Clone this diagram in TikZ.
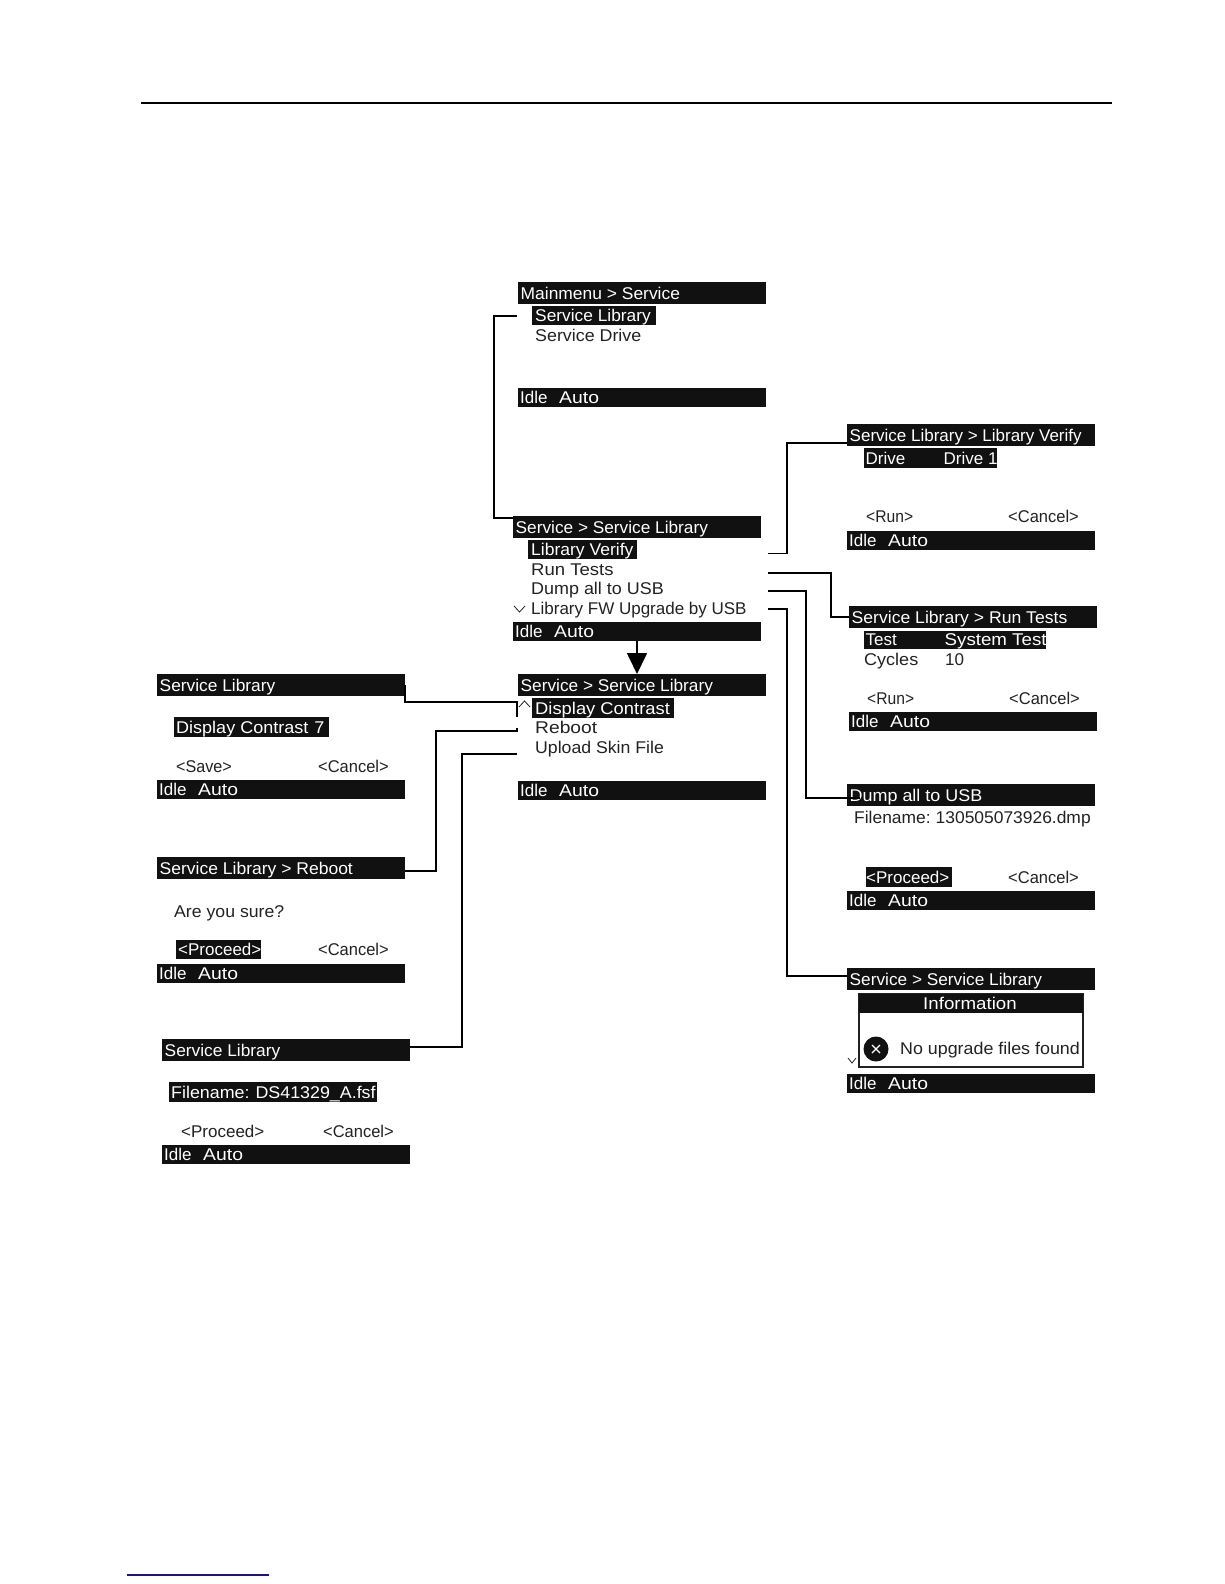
\documentclass[tikz,border=0pt]{standalone}
\usepackage{fontspec}
\setmainfont{Liberation Sans}
\usetikzlibrary{arrows.meta}
\definecolor{lcdblack}{HTML}{111111}
\definecolor{inkgrey}{HTML}{222222}
\definecolor{linkblue}{HTML}{14148C}
\newcommand{\St}[2]{{\addfontfeature{FakeStretch=#1}#2}}
\tikzset{
  x=1pt,y=-1pt,
  every node/.style={font=\fontsize{17}{17}\selectfont},
  barbox/.style={fill=lcdblack,inner sep=0pt,outer sep=0pt,minimum width=248pt,anchor=north west},
  hlbox/.style={fill=lcdblack,inner sep=0pt,outer sep=0pt,anchor=north west},
  wtext/.style={text=white,inner sep=0pt,anchor=base west},
  ktext/.style={text=inkgrey,inner sep=0pt,anchor=base west},
  conn/.style={line width=1.7pt,line join=miter,draw=black},
  thinconn/.style={line width=1.25pt,line join=miter,draw=black},
  caret/.style={line width=0.8pt,draw=inkgrey},
  rulex/.style={line width=1.1pt,draw=black},
}
% name, x, y, height, text
\newcommand{\TopBar}[5]{\node[barbox,minimum height=#4pt] (#1) at (#2,#3) {};
  \node[wtext] (#1t) at ([xshift=2.5pt,yshift=4.5pt]#1.south west) {#5};}
% name, x, y  (status bar)
\newcommand{\IdleBar}[3]{\node[barbox,minimum height=19pt] (#1) at (#2,#3) {};
  \node[wtext] (#1t) at ([xshift=2pt,yshift=4pt]#1.south west) {\makebox[39pt][l]{Idle}\St{1.14}{Auto}};}
% name, x, y, w, h, textx offset, text
\newcommand{\HlBox}[7]{\node[hlbox,minimum width=#4pt,minimum height=#5pt] (#1) at (#2,#3) {};
  \node[wtext] (#1t) at ([xshift=#6pt,yshift=4pt]#1.south west) {#7};}
\begin{document}
\begin{tikzpicture}
\useasboundingbox (0,0) rectangle (1224,1584);
\fill[white] (0,0) rectangle (1224,1584);

% page rules
\coordinate (ruleL) at (141,103);
\coordinate (ruleR) at (1112,103);
\draw[rulex] (ruleL) -- (ruleR);
\coordinate (linkL) at (127,1575);
\coordinate (linkR) at (269,1575);
\draw[line width=1.4pt,draw=linkblue] (linkL) -- (linkR);

% Panel A
\TopBar{A}{518}{282}{22}{\St{1.025}{Mainmenu > Service}}
\HlBox{Ah}{532}{306}{124}{19}{3}{\St{1.02}{Service Library}}
\node[ktext] (Ab) at (535,341) {\St{1.05}{Service Drive}};
\IdleBar{Ai}{518}{388}

% Panel B
\TopBar{B}{513}{516}{22}{\St{1.015}{Service > Service Library}}
\HlBox{Bh}{528}{540}{109}{19}{3}{\St{1.03}{Library Verify}}
\node[ktext] (Bb) at (531,575) {\St{1.09}{Run Tests}};
\node[ktext] (Bc) at (531,594) {\St{1.055}{Dump all to USB}};
\node[ktext] (Bd) at (531,614) {Library FW Upgrade by USB};
\IdleBar{Bi}{513}{622}

% Panel C
\TopBar{C}{518}{674}{22}{\St{1.015}{Service > Service Library}}
\HlBox{Ch}{532}{698}{142}{20}{3}{\St{1.08}{Display Contrast}}
\node[ktext] (Cb) at (535,733) {\St{1.13}{Reboot}};
\node[ktext] (Cc) at (535,753) {\St{1.04}{Upload Skin File}};
\IdleBar{Ci}{518}{781}

% Left 1
\TopBar{La}{157}{674}{22}{\St{1.02}{Service Library}}
\HlBox{Lah}{174}{717}{155}{20}{2}{\St{1.06}{Display Contrast\hspace{6pt}7}}
\node[ktext] (Las) at (176,772) {\St{0.95}{<Save>}};
\node[ktext] (Lac) at (318,772) {\St{0.97}{<Cancel>}};
\IdleBar{Lai}{157}{780}

% Left 2
\TopBar{Lb}{157}{857}{22}{\St{1.03}{Service Library > Reboot}}
\node[ktext] (Lbq) at (174,917) {\St{1.04}{Are you sure?}};
\HlBox{Lbh}{176}{940}{85}{19}{2}{<Proceed>}
\node[ktext] (Lbc) at (318,955) {\St{0.97}{<Cancel>}};
\IdleBar{Lbi}{157}{964}

% Left 3
\TopBar{Lc}{162}{1039}{22}{\St{1.02}{Service Library}}
\HlBox{Lch}{169}{1082}{208}{20}{2}{\St{1.05}{Filename:\hspace{6pt}DS41329\_A.fsf}}
\node[ktext] (Lcp) at (181,1137) {<Proceed>};
\node[ktext] (Lcc) at (323,1137) {\St{0.97}{<Cancel>}};
\IdleBar{Lci}{162}{1145}

% Right 1
\TopBar{Ra}{847}{424}{22}{Service Library > Library Verify}
\HlBox{Rah}{864}{448}{133}{20}{1.5}{\makebox[78pt][l]{Drive}Drive 1}
\node[ktext] (Rar) at (866,522) {\St{0.92}{<Run>}};
\node[ktext] (Rac) at (1008,522) {\St{0.97}{<Cancel>}};
\IdleBar{Rai}{847}{531}

% Right 2
\TopBar{Rb}{849}{606}{22}{\St{1.035}{Service Library > Run Tests}}
\HlBox{Rbh}{864}{631}{182}{18}{1.5}{\makebox[79pt][l]{Test}\St{1.1}{System Test}}
\node[ktext] (Rbl) at (864,665) {\makebox[81pt][l]{\St{1.06}{Cycles}}10};
\node[ktext] (Rbr) at (867,704) {\St{0.92}{<Run>}};
\node[ktext] (Rbc) at (1009,704) {\St{0.97}{<Cancel>}};
\IdleBar{Rbi}{849}{712}

% Right 3
\TopBar{Rc}{847}{784}{22}{\St{1.055}{Dump all to USB}}
\node[ktext] (Rcf) at (854,823) {\St{1.025}{Filename:\hspace{5pt}130505073926.dmp}};
\HlBox{Rch}{866}{867}{86}{20}{0}{<Proceed>}
\node[ktext] (Rcc) at (1008,883) {\St{0.97}{<Cancel>}};
\IdleBar{Rci}{847}{891}

% Right 4
\TopBar{Rd}{847}{968}{22}{\St{1.015}{Service > Service Library}}
\node[draw=inkgrey,line width=1.3pt,fill=white,inner sep=0pt,outer sep=0pt,anchor=north west,minimum width=224pt,minimum height=73pt] (Rdb) at (859,994) {};
\node[fill=lcdblack,inner sep=0pt,outer sep=0pt,anchor=north,minimum width=224pt,minimum height=19pt] (Rdh) at (Rdb.north) {};
\node[text=white,inner sep=0pt,anchor=base] (Rdt) at (970,1009) {\St{1.1}{Information}};
\node[circle,fill=lcdblack,minimum size=25pt,inner sep=0pt] (Rdi) at (876,1049) {};
\draw[white,line width=1.1pt] ([xshift=-4pt,yshift=-4pt]Rdi.center) -- ([xshift=4pt,yshift=4pt]Rdi.center);
\draw[white,line width=1.1pt] ([xshift=-4pt,yshift=4pt]Rdi.center) -- ([xshift=4pt,yshift=-4pt]Rdi.center);
\node[ktext] (Rdm) at (900,1054) {\St{1.05}{No upgrade files found}};
\IdleBar{Rdx}{847}{1074}

% scroll carets
\draw[caret] (514,606) -- (519.5,612) -- (525,606);
\draw[caret] (519,707) -- (524.5,701) -- (530,707);
\draw[caret] (848,1058) -- (852,1063) -- (856,1058);

% connector end points
\coordinate (sA) at (517,316);
\coordinate (tA) at (494,518);
\coordinate (sBa) at (768,553.5);
\coordinate (tBa) at (787,443);
\coordinate (sBb) at (768,573);
\coordinate (tBb) at (831,617);
\coordinate (sBc) at (768,591);
\coordinate (tBc) at (806,798);
\coordinate (eBc) at (860,798);
\coordinate (sBd) at (768,609);
\coordinate (tBd) at (787,976);
\coordinate (sCa) at (517,717);
\coordinate (tCa) at (405,702);
\coordinate (cCa) at (517,702);
\coordinate (sCb) at (517,728);
\coordinate (cCb) at (517,731);
\coordinate (tCb) at (436,871);
\coordinate (sCc) at (517,754);
\coordinate (tCc) at (462,1047);

% connectors
\draw[conn] (sA) -| (tA) -- (B.west |- tA);
\draw[conn] (sBa) -| (tBa) -- (Ra.west |- tBa);
\draw[conn] (sBb) -| (tBb) -- (Rb.west |- tBb);
\draw[conn] (sBc) -| (tBc) -- (eBc);
\draw[conn] (sBd) -| (tBd) -- (Rd.west |- tBd);
\draw[thinconn] (La.east) -- (tCa) -- (cCa) -- (sCa);
\draw[conn] (sCb) -- (cCb) -| (tCb) -- (Lb.east |- tCb);
\draw[conn] (sCc) -| (tCc) -- (Lc.east |- tCc);
\draw[line width=1.7pt,-{Triangle[width=20pt,length=21pt]}] (Bi.south) -- (Bi.south |- C.north);
\end{tikzpicture}
\end{document}
